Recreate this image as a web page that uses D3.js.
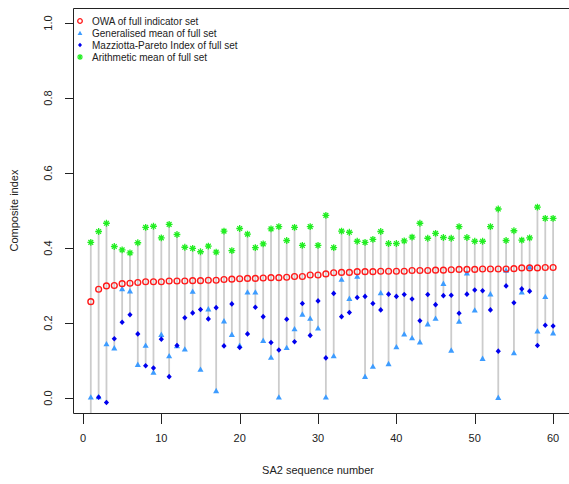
<!DOCTYPE html>
<html>
<head>
<meta charset="utf-8">
<script src="https://cdn.jsdelivr.net/npm/d3@7"></script>
<style>
  body { margin: 0; background: #fff; }
  svg text { font-family: "Liberation Sans", Arial, sans-serif; fill: #222; }
</style>
</head>
<body>
<div id="chart"></div>
<script>
// values, one entry per SA2 (1..60)
var owa = [0.257,0.290,0.299,0.300,0.305,0.306,0.308,0.310,0.310,0.310,
           0.312,0.312,0.312,0.313,0.313,0.314,0.314,0.316,0.317,0.318,
           0.319,0.319,0.320,0.321,0.321,0.322,0.324,0.324,0.328,0.328,
           0.331,0.334,0.335,0.335,0.337,0.337,0.337,0.338,0.338,0.338,
           0.338,0.340,0.340,0.340,0.341,0.341,0.342,0.343,0.343,0.343,
           0.344,0.344,0.344,0.344,0.345,0.347,0.347,0.347,0.348,0.348];
var genMean = [0.002,0.003,0.144,0.133,0.291,0.285,0.089,0.140,0.068,0.169,
               0.112,0.139,0.130,0.284,0.076,0.237,0.019,0.205,0.169,0.140,
               0.282,0.282,0.153,0.108,0.002,0.134,0.184,0.223,0.212,0.186,
               0.002,0.112,0.316,0.265,0.324,0.057,0.084,0.280,0.091,0.136,
               0.170,0.160,0.149,0.197,0.212,0.305,0.127,0.204,0.333,0.234,
               0.105,0.277,0.001,0.340,0.120,0.282,0.349,0.178,0.270,0.173];
var mpIndex = [-0.060,0.002,-0.012,0.158,0.202,0.222,0.171,0.086,0.080,0.157,
               0.057,0.140,0.214,0.227,0.236,0.211,0.241,0.139,0.251,0.135,
               0.171,0.242,0.217,0.148,0.128,0.210,0.150,0.252,0.167,0.259,
               0.107,0.279,0.217,0.228,0.268,0.271,0.252,0.235,0.277,0.271,
               0.276,0.264,0.206,0.276,0.249,0.273,0.274,0.226,0.277,0.288,
               0.286,0.235,0.125,0.299,0.254,0.291,0.285,0.140,0.194,0.192];
var arMean = [0.415,0.444,0.466,0.404,0.395,0.387,0.414,0.455,0.458,0.427,
              0.463,0.436,0.402,0.399,0.390,0.405,0.389,0.445,0.393,0.452,
              0.437,0.401,0.411,0.451,0.457,0.420,0.455,0.407,0.457,0.407,
              0.487,0.401,0.445,0.442,0.418,0.415,0.423,0.444,0.412,0.412,
              0.419,0.429,0.466,0.426,0.439,0.428,0.426,0.457,0.428,0.418,
              0.418,0.457,0.504,0.420,0.446,0.421,0.427,0.509,0.479,0.479];
var xTicks = [0,10,20,30,40,50,60];
var yTicks = [0,0.2,0.4,0.6,0.8,1.0];
var legendLabels = ["OWA of full indicator set","Generalised mean of full set",
                    "Mazziotta-Pareto Index of full set","Arithmetic mean of full set"];

var W = 569, H = 484;
var red = "#ff1a1a", lblue = "#3d9cff", dblue = "#0000ee", green = "#22ee22";

var svg = d3.select("#chart").append("svg").attr("width", W).attr("height", H);

var x = d3.scaleLinear().domain([-1.36, 62.36]).range([72.3, 571.6]);
var y = d3.scaleLinear().domain([-0.04, 1.04]).range([413, 8]);

var data = owa.map(function(v, i) {
  return {i: i + 1, owa: v, gm: genMean[i], mp: mpIndex[i], am: arMean[i]};
});

svg.append("clipPath").attr("id", "plotclip")
  .append("rect").attr("x", 72.3).attr("y", 8).attr("width", 499.3).attr("height", 405);

var plot = svg.append("g").attr("clip-path", "url(#plotclip)");

// gray drop lines between min and max of the four indices
plot.selectAll("line.drop").data(data).enter().append("line")
  .attr("class", "drop")
  .attr("x1", function(d) { return x(d.i); })
  .attr("x2", function(d) { return x(d.i); })
  .attr("y1", function(d) { return y(Math.max(d.owa, d.gm, d.mp, d.am)); })
  .attr("y2", function(d) { return y(Math.min(d.owa, d.gm, d.mp, d.am)); })
  .attr("stroke", "#cccccc").attr("stroke-width", 1.8);

var tri = d3.symbol().type(d3.symbolTriangle).size(16);
var triSmall = d3.symbol().type(d3.symbolTriangle).size(10);
var dia = "M0,-2.8L2.6,0L0,2.8L-2.6,0Z";
var diaSmall = "M0,-2.2L2,0L0,2.2L-2,0Z";
var star = "M-3.4,0H3.4M0,-3.4V3.4M-2.4,-2.4L2.4,2.4M-2.4,2.4L2.4,-2.4";
var starSmall = "M-3,0H3M0,-3V3M-2.1,-2.1L2.1,2.1M-2.1,2.1L2.1,-2.1";

plot.selectAll("path.gm").data(data).enter().append("path")
  .attr("class", "gm")
  .attr("d", tri)
  .attr("transform", function(d) { return "translate(" + x(d.i) + "," + (y(d.gm) + 0.5) + ")"; })
  .attr("fill", lblue);

plot.selectAll("path.mp").data(data).enter().append("path")
  .attr("class", "mp")
  .attr("d", dia)
  .attr("transform", function(d) { return "translate(" + x(d.i) + "," + y(d.mp) + ")"; })
  .attr("fill", dblue);

plot.selectAll("circle.owa").data(data).enter().append("circle")
  .attr("class", "owa")
  .attr("cx", function(d) { return x(d.i); })
  .attr("cy", function(d) { return y(d.owa); })
  .attr("r", 2.9)
  .attr("fill", "none").attr("stroke", red).attr("stroke-width", 1.4);

plot.selectAll("path.am").data(data).enter().append("path")
  .attr("class", "am")
  .attr("d", star)
  .attr("transform", function(d) { return "translate(" + x(d.i) + "," + y(d.am) + ")"; })
  .attr("fill", "none").attr("stroke", green).attr("stroke-width", 1.3);

// plot box (left, top, bottom; right edge falls outside the window)
svg.append("path")
  .attr("d", "M572,8.5H73.5V413.5H572")
  .attr("fill", "none").attr("stroke", "#222").attr("stroke-width", 1);

// axes
var xAxis = svg.append("g").attr("transform", "translate(0,414)");
xAxis.selectAll("line").data(xTicks).enter().append("line")
  .attr("x1", function(d) { return Math.round(x(d)) + 0.5; })
  .attr("x2", function(d) { return Math.round(x(d)) + 0.5; })
  .attr("y1", 0).attr("y2", 10)
  .attr("stroke", "#222");
xAxis.selectAll("text").data(xTicks).enter().append("text")
  .attr("x", function(d) { return x(d); })
  .attr("y", 28)
  .attr("text-anchor", "middle")
  .attr("font-size", "11px")
  .text(function(d) { return d; });

var yAxis = svg.append("g").attr("transform", "translate(73,0)");
yAxis.selectAll("line").data(yTicks).enter().append("line")
  .attr("x1", -8).attr("x2", 0)
  .attr("y1", function(d) { return Math.round(y(d)) + 0.5; })
  .attr("y2", function(d) { return Math.round(y(d)) + 0.5; })
  .attr("stroke", "#222");
yAxis.selectAll("text").data(yTicks).enter().append("text")
  .attr("transform", function(d) { return "translate(-25," + y(d) + ") rotate(-90)"; })
  .attr("text-anchor", "middle")
  .attr("dy", "0.35em")
  .attr("font-size", "11px")
  .text(function(d) { return d.toFixed(1); });

svg.append("text")
  .attr("x", x(30)).attr("y", 474)
  .attr("text-anchor", "middle").attr("font-size", "11px")
  .text("SA2 sequence number");

svg.append("text")
  .attr("transform", "translate(18," + y(0.5) + ") rotate(-90)")
  .attr("text-anchor", "middle").attr("font-size", "11px")
  .text("Composite index");

// legend
var leg = svg.append("g").attr("transform", "translate(80,21)");
var rows = leg.selectAll("g").data(legendLabels).enter().append("g")
  .attr("transform", function(d, i) { return "translate(0," + (i * 12) + ")"; });
rows.append("text")
  .attr("x", 12).attr("dy", "0.35em")
  .attr("font-size", "10px")
  .text(function(d) { return d; });
rows.filter(function(d, i) { return i === 0; }).append("circle")
  .attr("r", 2.3).attr("fill", "none").attr("stroke", red).attr("stroke-width", 1.3);
rows.filter(function(d, i) { return i === 1; }).append("path")
  .attr("d", triSmall).attr("transform", "translate(0,0.5)").attr("fill", lblue);
rows.filter(function(d, i) { return i === 2; }).append("path")
  .attr("d", diaSmall).attr("fill", dblue);
rows.filter(function(d, i) { return i === 3; }).append("path")
  .attr("d", starSmall).attr("fill", "none").attr("stroke", green).attr("stroke-width", 1.2);
</script>
</body>
</html>
